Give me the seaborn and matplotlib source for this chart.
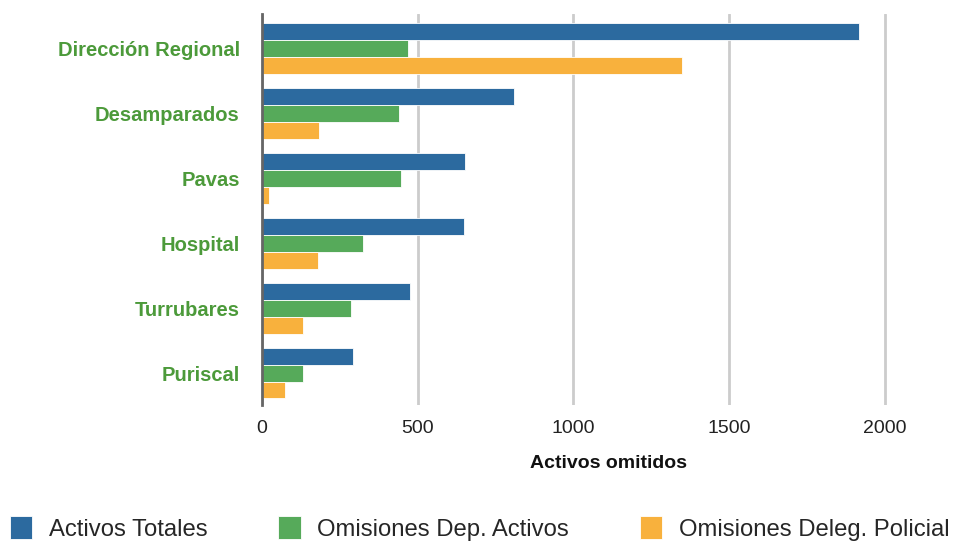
import matplotlib
matplotlib.use("Agg")
import matplotlib.pyplot as plt
import seaborn as sns
import pandas as pd

# Datos: activos omitidos por dependencia
regiones = ["Dirección Regional", "Desamparados", "Pavas", "Hospital", "Turrubares", "Puriscal"]
series = ["Activos Totales", "Omisiones Dep. Activos", "Omisiones Deleg. Policial"]
activos_totales = [1916, 810, 652, 648, 476, 291]
omisiones_dep_activos = [468, 440, 448, 323, 285, 133]
omisiones_deleg_policial = [1349, 182, 24, 180, 133, 75]
x_ticks = [0, 500, 1000, 1500, 2000]
colores = ["#2c6a9f", "#56aa5a", "#f8b13d"]

filas = []
for serie, valores in zip(series, [activos_totales, omisiones_dep_activos, omisiones_deleg_policial]):
    for region, v in zip(regiones, valores):
        filas.append({"region": region, "serie": serie, "valor": v})
df = pd.DataFrame(filas)

sns.set_theme(style="white")
plt.rcParams["font.family"] = ["Liberation Sans", "DejaVu Sans"]

fig = plt.figure(figsize=(9.55, 5.42), dpi=100)
ax = fig.add_axes([0.2743, 0.2528, 0.7257, 0.7214])

sns.barplot(data=df, x="valor", y="region", hue="serie", order=regiones,
            hue_order=series, palette=colores, orient="h", width=0.78,
            saturation=1, edgecolor="white", linewidth=0.6, ax=ax)

ax.set_xlim(0, 2225)
ax.set_ylim(5.49, -0.53)
ax.set_xticks(x_ticks)
ax.set_xticklabels([str(t) for t in x_ticks], fontsize=14, color="#222222")
ax.tick_params(axis="x", length=0, pad=11)
ax.tick_params(axis="y", length=0, pad=16)
for lbl in ax.get_yticklabels():
    lbl.set_fontsize(14.5)
    lbl.set_fontweight("bold")
    lbl.set_color("#4c9a3a")

ax.grid(axis="x", color="#cccccc", linewidth=2)
ax.set_axisbelow(True)
for side in ["top", "right", "bottom"]:
    ax.spines[side].set_visible(False)
ax.spines["left"].set_color("#666666")
ax.spines["left"].set_linewidth(2)

ax.set_ylabel("")
ax.set_xlabel("Activos omitidos", fontsize=14, fontweight="bold", color="#111111", labelpad=13)

handles, labels = ax.get_legend_handles_labels()
ax.get_legend().remove()
fig.legend(handles, labels, loc="lower left", bbox_to_anchor=(0.0, -0.015), ncol=3,
           frameon=False, fontsize=17.2, handlelength=0.95, handleheight=1.15,
           handletextpad=0.7, columnspacing=2.95, borderaxespad=0.0)

fig.savefig("out.png", dpi=100)
